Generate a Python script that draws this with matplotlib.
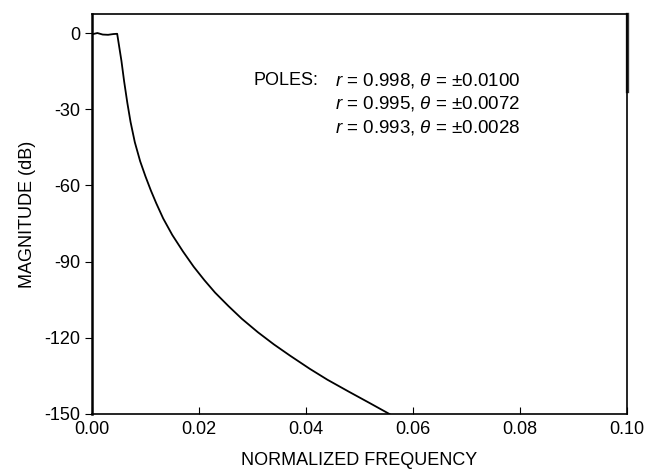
import numpy as np
import matplotlib.pyplot as plt

plt.rcParams['font.family'] = ['Liberation Sans', 'DejaVu Sans']
plt.rcParams['mathtext.fontset'] = 'custom'
plt.rcParams['mathtext.rm'] = 'Liberation Sans'
plt.rcParams['mathtext.it'] = 'Liberation Sans:italic'
plt.rcParams['axes.unicode_minus'] = False

# magnitude response
freq = [0.0, 0.001, 0.002, 0.003, 0.004, 0.0047, 0.0055, 0.0060, 0.0066, 0.0072,
        0.0080, 0.0090, 0.0100, 0.0110, 0.0120, 0.0133, 0.0150, 0.0170, 0.0190,
        0.0210, 0.0230, 0.0255, 0.0280, 0.0310, 0.0340, 0.0370, 0.0407, 0.0440,
        0.0480, 0.0520, 0.0556]
mag_db = [-0.5, 0.0, -0.6, -0.7, -0.4, -0.3, -11.0, -19.0, -27.5, -35.0,
          -43.0, -50.5, -56.5, -62.0, -67.0, -73.0, -79.5, -86.0, -92.0,
          -97.3, -102.2, -107.5, -112.5, -117.8, -122.6, -127.0, -132.2, -136.5,
          -141.2, -145.8, -150.0]

# short segment on the right edge
edge_freq = [0.1, 0.1]
edge_db = [7.5, -23.0]

pole_r = ['0.998', '0.995', '0.993']
pole_theta = ['0.0100', '0.0072', '0.0028']

xticks = [0.0, 0.02, 0.04, 0.06, 0.08, 0.10]
yticks = [0, -30, -60, -90, -120, -150]

fig = plt.figure(figsize=(6.49, 4.74), dpi=100)
ax = fig.add_axes([0.1418, 0.1266, 0.966 - 0.1418, 0.9705 - 0.1266])

ax.plot(freq, mag_db, color='black', lw=1.3)
ax.plot(edge_freq, edge_db, color='#333333', lw=2.4, clip_on=False)

ax.set_xlim(0, 0.1)
ax.set_ylim(-150, 7.5)
ax.set_xticks(xticks)
ax.set_xticklabels(['%.2f' % t for t in xticks])
ax.set_yticks(yticks)
ax.tick_params(axis='x', direction='in', length=5, labelsize=13, pad=5)
ax.tick_params(axis='y', direction='out', length=5, labelsize=13)
for s in ax.spines.values():
    s.set_linewidth(1.2)
ax.spines['left'].set_linewidth(1.8)

ax.set_xlabel('NORMALIZED FREQUENCY', fontsize=13, labelpad=10)
ax.set_ylabel('MAGNITUDE (dB)', fontsize=13, labelpad=6)

ax.text(0.0302, -18.5, 'POLES:', fontsize=13, va='center')
for i in range(3):
    ax.text(0.0454, -18.5 - 9.4 * i,
            r'$r$ = %s, $\theta$ = ±%s' % (pole_r[i], pole_theta[i]),
            fontsize=13.5, va='center')

fig.savefig('out.png', dpi=100)
